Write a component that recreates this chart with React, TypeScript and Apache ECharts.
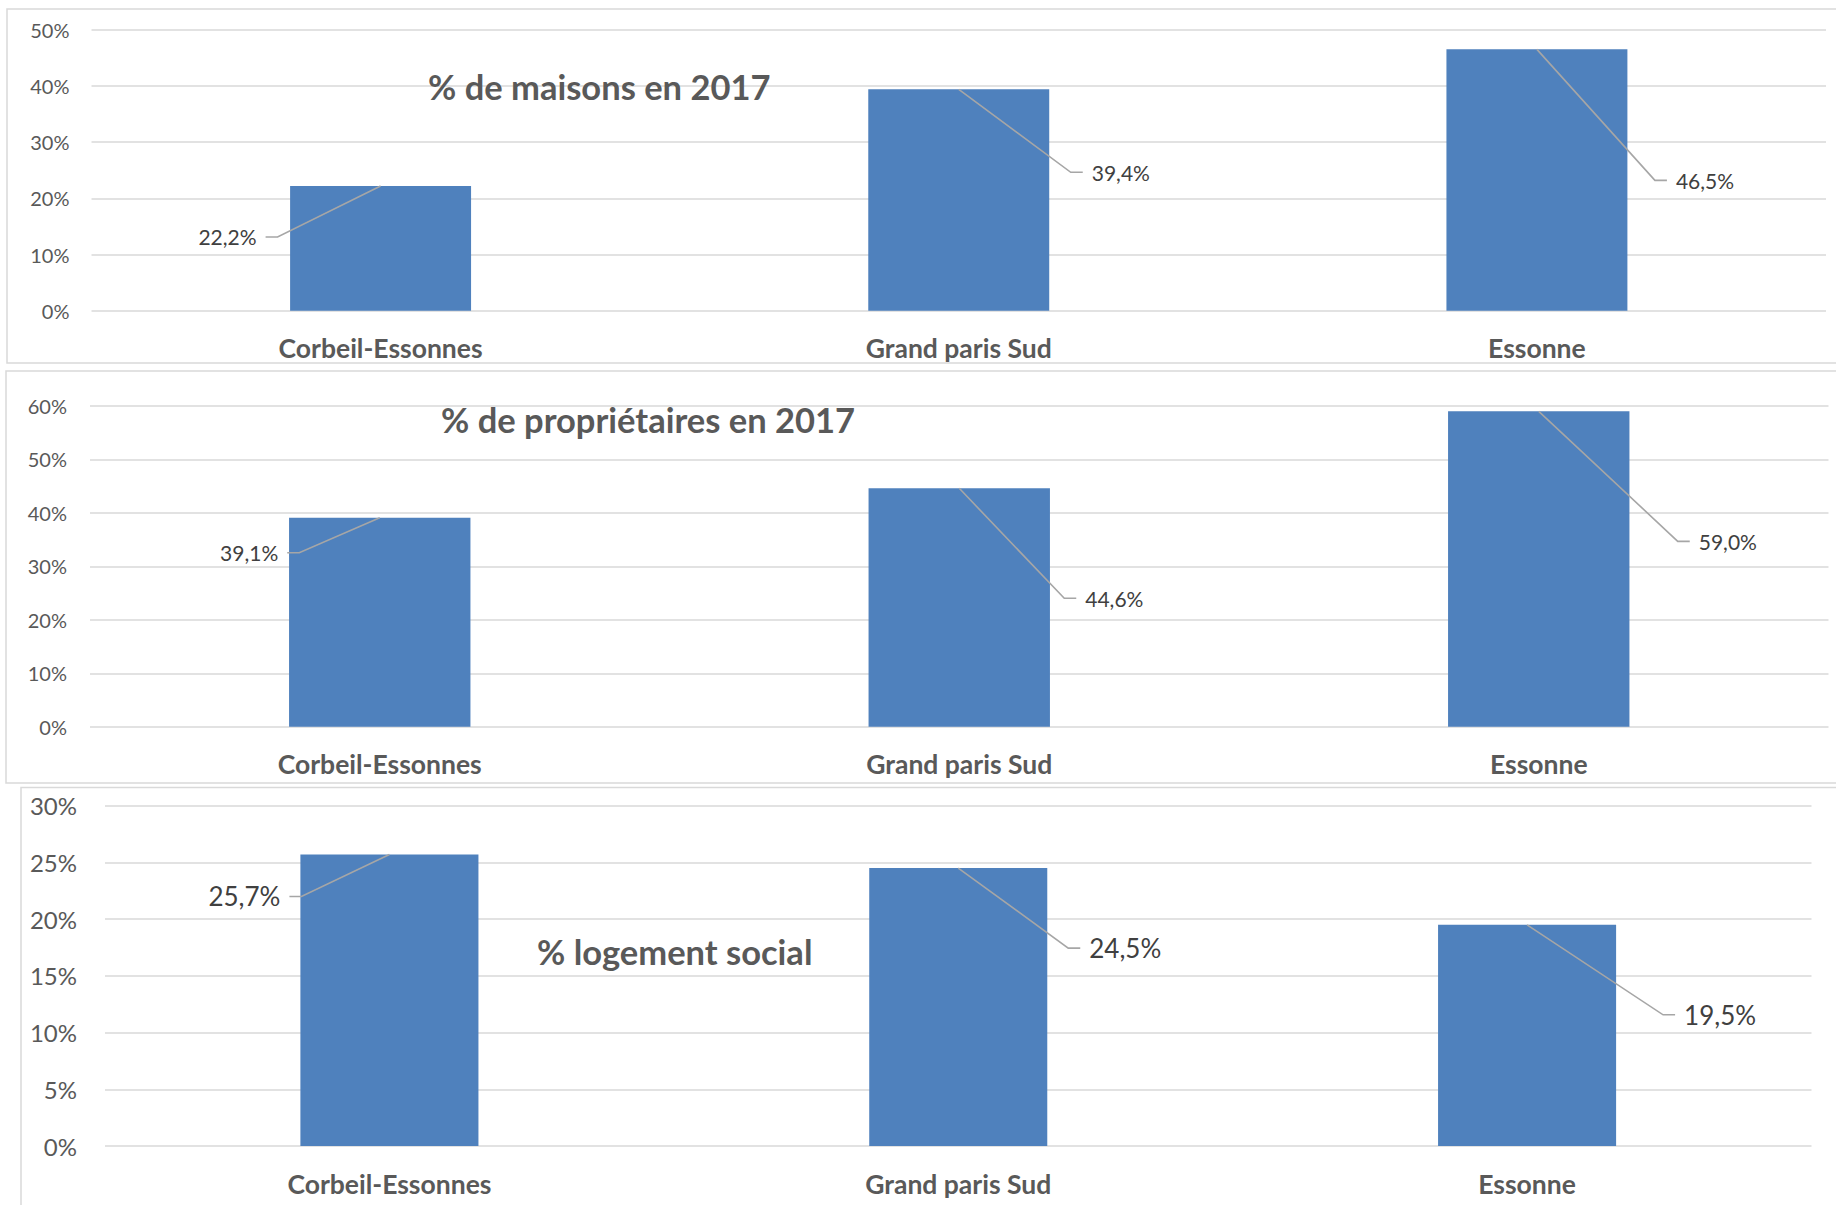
import React, { useEffect, useRef } from "react";
import * as echarts from "echarts";

// ---- data ----
const categories = ["Corbeil-Essonnes", "Grand paris Sud", "Essonne"];
const maisons2017 = [22.2, 39.4, 46.5];
const proprietaires2017 = [39.1, 44.6, 59.0];
const logementSocial = [25.7, 24.5, 19.5];
const chartTitles = ["% de maisons en 2017", "% de propriétaires en 2017", "% logement social"];
const axisMax = [50, 60, 30];
const axisInterval = [10, 10, 5];

const seriesValues = [maisons2017, proprietaires2017, logementSocial];

// ---- layout / style ----
const FONT = "Lato, 'Noto Sans', sans-serif";
const BAR_COLOR = "#4F81BD";
const GRID_COLOR = "#D9D9D9";
const TEXT_COLOR = "#595959";
const LABEL_COLOR = "#404040";
const LEADER_COLOR = "#A6A6A6";

const layout = [
  {
    grid: { left: 91.5, right: 10, top: 29.7, height: 281 },
    tickSize: 20,
    tickMargin: 22,
    labelSize: 21,
    offsets: [[-103, 51], [112, 83], [118, 131]],
    titlePos: [428, 86.5],
    border: [7, 9, 1840, 354],
  },
  {
    grid: { left: 90, right: 7.5, top: 406, height: 320.7 },
    tickSize: 20,
    tickMargin: 23,
    labelSize: 21,
    offsets: [[-80.5, 35], [105, 110], [139, 130]],
    titlePos: [441, 419.5],
    border: [6, 371, 1840, 412],
  },
  {
    grid: { left: 105, right: 24.5, top: 805.7, height: 340.3 },
    tickSize: 24,
    tickMargin: 28,
    labelSize: 26,
    offsets: [[-88, 42], [110, 80], [136, 90]],
    titlePos: [537, 951],
    border: [21, 787.5, 1840, 440],
  },
];

const fmt = (v: number) => v.toFixed(1).replace(".", ",") + "%";

function buildOption() {
  const grids: any[] = [];
  const xAxes: any[] = [];
  const yAxes: any[] = [];
  const series: any[] = [];
  const graphics: any[] = [];

  layout.forEach((L, k) => {
    const [bx, by, bw, bh] = L.border;
    graphics.push({
      type: "rect",
      z: -10,
      shape: { x: bx, y: by, width: bw, height: bh },
      style: { fill: "#fff", stroke: GRID_COLOR, lineWidth: 1.5 },
    });
    graphics.push({
      type: "text",
      z: 10,
      x: L.titlePos[0],
      y: L.titlePos[1],
      style: {
        text: chartTitles[k],
        fontSize: 34.5,
        fontWeight: "bold",
        fontFamily: FONT,
        fill: TEXT_COLOR,
        textAlign: "left",
        align: "left",
        textVerticalAlign: "middle",
        verticalAlign: "middle",
      },
    });

    grids.push({ ...L.grid, containLabel: false });
    xAxes.push({
      type: "category",
      gridIndex: k,
      data: categories,
      axisLine: { show: false },
      axisTick: { show: false },
      axisLabel: {
        fontSize: 26.5,
        fontWeight: "bold",
        fontFamily: FONT,
        color: TEXT_COLOR,
        margin: 24,
      },
    });
    yAxes.push({
      type: "value",
      gridIndex: k,
      min: 0,
      max: axisMax[k],
      interval: axisInterval[k],
      axisLine: { show: false },
      axisTick: { show: false },
      splitLine: { lineStyle: { color: GRID_COLOR, width: 1.5 } },
      axisLabel: {
        formatter: (v: number) => `${v}%`,
        fontSize: L.tickSize,
        fontFamily: FONT,
        color: TEXT_COLOR,
        margin: L.tickMargin,
      },
    });

    const vals = seriesValues[k];
    series.push({
      type: "bar",
      xAxisIndex: k,
      yAxisIndex: k,
      data: vals,
      barWidth: "31.3%",
      itemStyle: { color: BAR_COLOR },
      z: 2,
    });

    const offsets = L.offsets;
    const labelSize = L.labelSize;
    series.push({
      type: "custom",
      xAxisIndex: k,
      yAxisIndex: k,
      z: 5,
      data: vals.map((v, i) => [i, v]),
      renderItem: (params: any, api: any) => {
        const i = api.value(0);
        const v = api.value(1);
        const p = api.coord([i, v]);
        const [dx, dy] = offsets[params.dataIndex];
        const ex = p[0] + dx;
        const ey = p[1] + dy;
        const dir = dx < 0 ? -1 : 1;
        const hx = ex + dir * 12;
        const tx = hx + dir * 9;
        return {
          type: "group",
          children: [
            {
              type: "polyline",
              shape: { points: [[p[0], p[1]], [ex, ey], [hx, ey]] },
              style: { stroke: LEADER_COLOR, lineWidth: 1.6, fill: null },
            },
            {
              type: "text",
              x: tx,
              y: ey,
              style: {
                text: fmt(v),
                fontSize: labelSize,
                fontFamily: FONT,
                fill: LABEL_COLOR,
                textAlign: dir < 0 ? "right" : "left",
                align: dir < 0 ? "right" : "left",
                textVerticalAlign: "middle",
                verticalAlign: "middle",
              },
            },
          ],
        };
      },
    });
  });

  return {
    animation: false,
    backgroundColor: "#fff",
    grid: grids,
    xAxis: xAxes,
    yAxis: yAxes,
    series,
    graphic: { elements: graphics },
  };
}

export default function App() {
  const ref = useRef<HTMLDivElement>(null);
  useEffect(() => {
    if (!ref.current) return;
    const chart = echarts.init(ref.current, undefined, { renderer: "svg" });
    chart.setOption(buildOption() as any);
    return () => chart.dispose();
  }, []);
  return (
    <div
      ref={ref}
      style={{ position: "absolute", left: 0, top: 0, width: 1836, height: 1205, background: "#fff" }}
    />
  );
}
